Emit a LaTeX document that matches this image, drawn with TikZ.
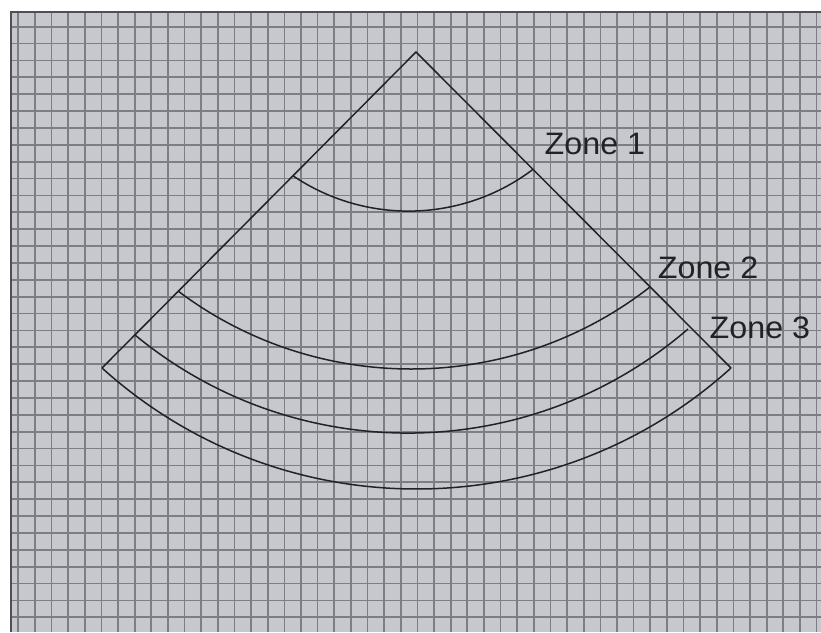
\documentclass[tikz,border=0pt]{standalone}
\usepackage{fontspec}
\setmainfont{Liberation Sans}
\definecolor{paper}{RGB}{199,200,205}
\definecolor{gridc}{RGB}{124,126,132}
\definecolor{framec}{RGB}{80,80,84}
\definecolor{inkc}{RGB}{34,34,36}
\tikzset{
  gridline/.style={draw=gridc, line width=1.7pt},
  shapeline/.style={draw=inkc, line width=1.5pt, line join=round},
  zonelabel/.style={text=inkc, inner sep=0pt, anchor=base west, xscale=1.04, font=\fontsize{31}{37}\selectfont}
}
\begin{document}
\begin{tikzpicture}[x=1pt,y=1pt]
\useasboundingbox (0,0) rectangle (821,632);
% paper
\fill[white] (0,0) rectangle (821,632);
\fill[paper] (10,0) rectangle (821,621);
\begin{scope}
\clip (10,0) rectangle (821,621);
\foreach \k in {0,...,48} \draw[gridline] ({18.3+16.63*\k},0) -- ({18.3+16.63*\k},621);
\foreach \k in {0,...,36} \draw[gridline] (10,{605.3-16.875*\k}) -- (821,{605.3-16.875*\k});
\end{scope}
\draw[framec, line width=2.5pt] (11,0) -- (11,620) -- (821,620);
% sector
\coordinate (apex) at (416,580);
\coordinate (lc) at (102,264);
\coordinate (rc) at (731,264);
\draw[shapeline] (lc) -- (apex) -- (rc);
\draw[shapeline] (lc) arc[start angle=227.91, end angle=312.09, radius=469.22];
\coordinate (z1l) at (293,456.2);
\coordinate (z2l) at (178,341);
\coordinate (z3l) at (135,297);
\draw[shapeline] (z1l) arc[start angle=235.99, end angle=307.07, radius=206.5];
\draw[shapeline] (z2l) arc[start angle=233.03, end angle=307.95, radius=388.07];
\draw[shapeline] (z3l) arc[start angle=230.47, end angle=310.77, radius=428.84];
% labels
\node[zonelabel] (lab1) at (544.5,477) {Zone 1};
\node[zonelabel] (lab2) at (657.7,353.7) {Zone 2};
\node[zonelabel] (lab3) at (709.5,293.7) {Zone 3};
\end{tikzpicture}
\end{document}
